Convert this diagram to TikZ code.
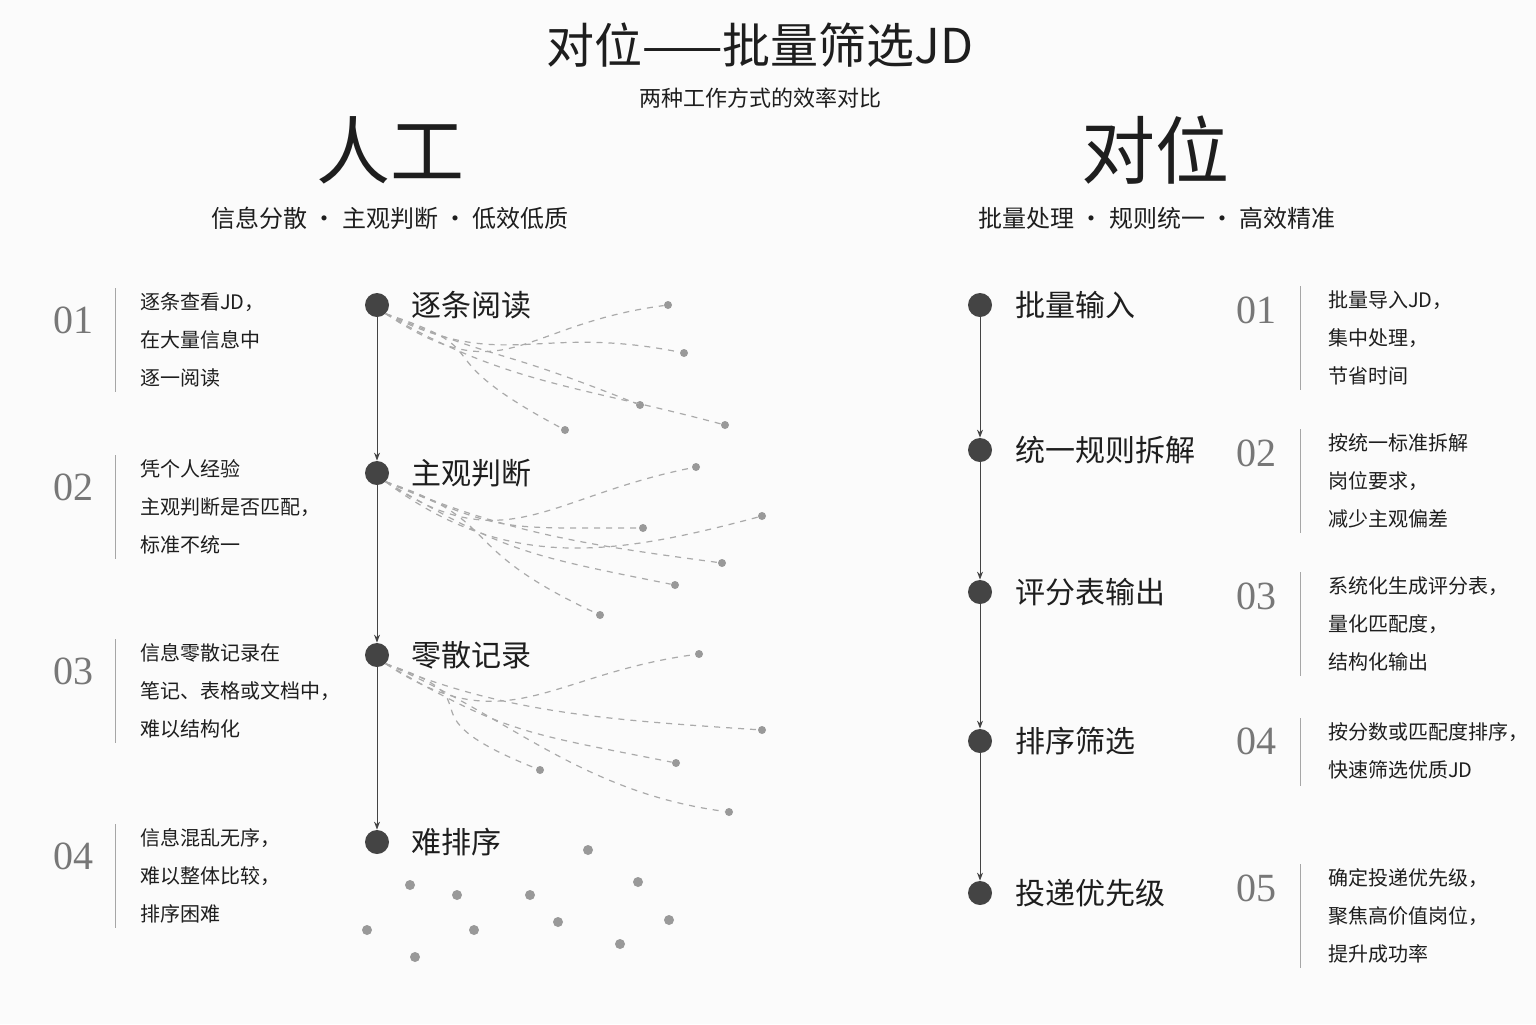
\documentclass[tikz,border=0pt]{standalone}
\usepackage{fontspec}
\setmainfont{Noto Sans CJK SC}
\newfontfamily\numf{Liberation Serif}
\usetikzlibrary{arrows.meta}
\definecolor{ink}{HTML}{1E1E1E}
\definecolor{dotc}{HTML}{444444}
\definecolor{graytxt}{HTML}{777777}
\definecolor{dashc}{HTML}{AAAAAA}
\begin{document}
\begin{tikzpicture}[x=0.5pt,y=-0.5pt,
 dotn/.style={circle,fill=dotc,inner sep=0pt,minimum size=12pt},
 lab/.style={anchor=west,font=\fontsize{15}{15}\selectfont,text=ink},
 num/.style={font=\numf\fontsize{20}{20}\selectfont,text=graytxt},
 desc/.style={anchor=west,font=\fontsize{10}{10}\selectfont,text=ink},
 arr/.style={draw=dotc,line width=0.5pt,-{Stealth[length=4pt,width=3pt]}},
 dl/.style={draw=dashc,dashed,line width=0.6pt},
 ed/.style={circle,fill=gray!80,inner sep=0pt,minimum size=4pt},
 vl/.style={draw=gray!70,line width=0.5pt}]
\fill[white!97!gray] (0,0) rectangle (1536,1024);
\node[font=\fontsize{24}{24}\selectfont,text=ink] (t) at (760,45) {对位——批量筛选JD};
\node[font=\fontsize{11}{11}\selectfont,text=ink] (st) at (760,98) {两种工作方式的效率对比};
\node[font=\fontsize{37}{37}\selectfont,text=ink] (h1) at (390,150) {人工};
\node[font=\fontsize{37}{37}\selectfont,text=ink] (h2) at (1155,150) {对位};
\node[font=\fontsize{12}{12}\selectfont,text=ink] (s1) at (390,218) {信息分散 · 主观判断 · 低效低质};
\node[font=\fontsize{12}{12}\selectfont,text=ink] (s2) at (1157,218) {批量处理 · 规则统一 · 高效精准};
% left
\foreach \n/\y/\a/\b/\c in {01/302/逐条查看JD，/在大量信息中/逐一阅读, 02/469/凭个人经验/主观判断是否匹配，/标准不统一, 03/653/信息零散记录在/笔记、表格或文档中，/难以结构化, 04/838/信息混乱无序，/难以整体比较，/排序困难}{
 \node[num] (ln\n) at (73,\y+18) {\n};
 \draw[vl] (115,\y-14) -- (115,\y+90);
 \node[desc] (la\n) at (133,\y) {\a};
 \node[desc] (lb\n) at (133,\y+38) {\b};
 \node[desc] (lc\n) at (133,\y+76) {\c};
}
\node[dotn] (L1) at (377,305) {}; \node[lab] at (404,305) {逐条阅读};
\node[dotn] (L2) at (377,473) {}; \node[lab] at (404,473) {主观判断};
\node[dotn] (L3) at (377,655) {}; \node[lab] at (404,655) {零散记录};
\node[dotn] (L4) at (377,842) {}; \node[lab] at (404,842) {难排序};
\draw[arr] (L1) -- (L2); \draw[arr] (L2) -- (L3); \draw[arr] (L3) -- (L4);
\foreach \x/\y/\ay/\by [count=\i] in {668/305/80/20,684/353/60/-30,640/405/50/-60,565/430/40/-80,725/425/70/-40}{
 \node[ed] (e1\i) at (\x,\y) {};
 \draw[dl] (L1.south east) .. controls +(120,\ay) and +(-150,\by) .. (e1\i);}
\foreach \x/\y/\ay/\by [count=\i] in {696/467/80/30,643/528/50/0,762/516/90/40,722/563/50/-20,675/585/70/-30,600/615/40/-70}{
 \node[ed] (e2\i) at (\x,\y) {};
 \draw[dl] (L2.south east) .. controls +(120,\ay) and +(-150,\by) .. (e2\i);}
\foreach \x/\y/\ay/\by [count=\i] in {699/654/80/20,762/730/50/-10,676/763/70/-30,540/770/40/-60,729/812/50/-20}{
 \node[ed] (e3\i) at (\x,\y) {};
 \draw[dl] (L3.south east) .. controls +(120,\ay) and +(-150,\by) .. (e3\i);}
\foreach \x/\y [count=\i] in {588/850,410/885,457/895,530/895,638/882,367/930,474/930,558/922,669/920,620/944,415/957}{
 \node[ed,minimum size=5pt] (e4\i) at (\x,\y) {};}
% right
\foreach \i/\y/\t in {1/305/批量输入,2/450/统一规则拆解,3/592/评分表输出,4/741/排序筛选,5/893/投递优先级}{
 \node[dotn] (R\i) at (980,\y) {};
 \node[lab] (RL\i) at (1008,\y) {\t};}
\draw[arr] (R1) -- (R2); \draw[arr] (R2) -- (R3); \draw[arr] (R3) -- (R4); \draw[arr] (R4) -- (R5);
\foreach \n/\y/\a/\b/\c in {01/300/批量导入JD，/集中处理，/节省时间, 02/443/按统一标准拆解/岗位要求，/减少主观偏差, 03/586/系统化生成评分表，/量化匹配度，/结构化输出, 05/878/确定投递优先级，/聚焦高价值岗位，/提升成功率}{
 \node[num] (rn\n) at (1256,\y+10) {\n};
 \draw[vl] (1300,\y-14) -- (1300,\y+90);
 \node[desc] (ra\n) at (1321,\y) {\a};
 \node[desc] (rb\n) at (1321,\y+38) {\b};
 \node[desc] (rc\n) at (1321,\y+76) {\c};
}
\node[num] (rn04) at (1256,741) {04};
\draw[vl] (1300,718) -- (1300,786);
\node[desc] (ra04) at (1321,732) {按分数或匹配度排序，};
\node[desc] (rb04) at (1321,770) {快速筛选优质JD};
\end{tikzpicture}
\end{document}
